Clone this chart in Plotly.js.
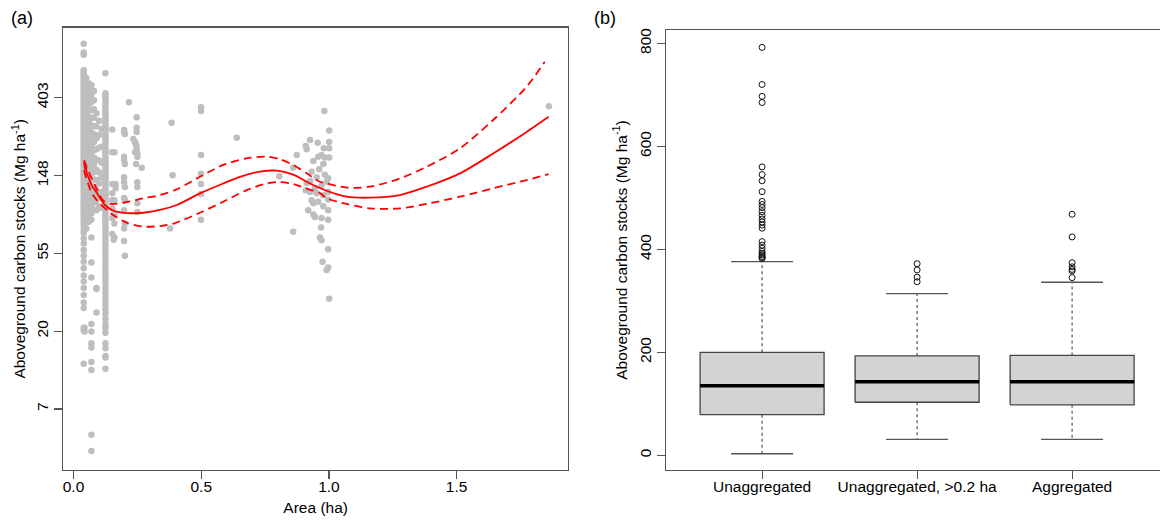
<!DOCTYPE html>
<html>
<head>
<meta charset="utf-8">
<script src="https://cdn.plot.ly/plotly-3.0.1.min.js"></script>
<style>html,body{margin:0;padding:0;background:#fff;}#chart{width:1160px;height:520px;}</style>
</head>
<body>
<div id="chart"></div>
<script>
// ---------- Panel (a): plot area (ha) vs aboveground carbon (Mg/ha), log y ----------
// dense columns of plots sharing (nearly) the same area
const colAreas = [0.04, 0.05, 0.06, 0.07, 0.08, 0.09, 0.10, 0.11, 0.125];
const colCarbon0040 = [808, 722, 700, 575, 560, 548, 530, 515, 500, 488, 475, 462, 450, 438, 425, 415, 403, 392, 382, 372, 362, 352, 343, 334, 325, 316, 308, 300, 292, 284, 276, 268, 261, 254, 247, 240, 233, 227, 221, 215, 209, 203, 197, 192, 187, 182, 177, 172, 167, 162, 158, 154, 150, 146, 142, 138, 134, 130, 126, 122, 118, 114, 110, 107, 104, 101, 98, 95, 92, 89, 86, 83, 80, 77, 74, 71, 66, 62, 57, 53, 49, 45, 41, 38, 35, 32, 29, 27, 21, 20.4, 13.2];
const colCarbon0050 = [520, 470, 430, 395, 365, 338, 312, 290, 270, 250, 232, 216, 201, 188, 176, 165, 154, 144, 135, 126, 118, 110, 102, 95, 88, 81, 75];
const colCarbon0060 = [485, 445, 405, 372, 342, 315, 292, 270, 249, 230, 213, 198, 184, 171, 159, 148, 138, 129, 120, 112, 104, 96, 89, 82];
const colCarbon0070 = [474, 420, 380, 345, 312, 283, 258, 236, 216, 198, 182, 167, 153, 141, 130, 119, 109, 100, 91, 84];
const colCarbon0080 = [440, 390, 348, 312, 280, 252, 228, 206, 187, 170, 155, 141, 128, 116, 105, 95];
const colCarbon0090 = [330, 280, 240, 208, 182, 160, 140, 123, 108, 95];
const colCarbon0100 = [300, 250, 212, 180, 155, 134, 116, 100];
const colCarbon0110 = [270, 215, 175, 145, 120, 98];
const colCarbon0125 = [553, 427, 417, 408, 395, 382, 370, 358, 346, 335, 324, 313, 303, 293, 284, 275, 266, 258, 250, 242, 234, 227, 220, 213, 206, 200, 194, 188, 182, 176, 171, 166, 161, 156, 151, 147, 143, 139, 135, 131, 127, 123, 119, 115, 112, 109, 106, 103, 100, 97, 94, 91, 88, 85, 82, 79, 76, 73, 70, 67, 64, 61, 58, 55, 52.5, 50, 47.5, 45, 43, 41, 39, 37, 35, 33, 31, 29.5, 28, 26.5, 25, 23.5, 22, 21, 19.7, 17.2, 16.1, 14.6, 14.3, 12.4];
const colCarbon = [colCarbon0040, colCarbon0050, colCarbon0060, colCarbon0070, colCarbon0080, colCarbon0090, colCarbon0100, colCarbon0110, colCarbon0125];

// individual plots
const otherArea = [0.07,0.07,0.07,0.07,0.07,0.07,0.07,0.07,0.07,0.07,0.07, 0.09,0.09,0.09, 0.043,0.043,
  0.152,0.152,0.152,0.152,0.152,0.152,0.152,0.152, 0.16,0.16,0.16,0.16,0.16, 0.157, 0.165,0.165,
  0.198,0.198,0.198,0.198,0.198,0.198,0.198,0.198,0.198,0.198, 0.201,0.201,0.201,0.201,0.201,0.201,
  0.217, 0.234, 0.241,0.241, 0.245,0.245, 0.247,0.247,0.247,0.247,0.247, 0.25,0.25,0.25,0.25,0.25,0.25, 0.267,
  0.378, 0.384, 0.388, 0.499,0.499,0.499,0.499,0.499,0.499,0.499, 0.639, 0.806, 0.86,0.86, 0.874,
  0.982,1.001,0.926,0.956,1.001,0.909,0.913,0.980,1.001,0.958,0.971,0.984,1.001,0.939,0.978,0.962,0.932,0.984,0.952,0.997,
  0.913,0.926,0.991,0.971,0.909,0.926,0.945,0.997,0.952,0.978,0.932,0.939,0.997,0.958,0.978,0.919,0.939,0.945,0.997,0.971,
  0.997,0.969,0.965,0.971,0.997,0.975,0.997,0.991,1.001, 1.861];
const otherCarbon = [67,48.5,40,22,20,17.2,16.3,13.5,12.2,5.3,4.3, 35,25.5,34.5, 21,20,
  268,200,133,118,108,97,86,70, 200,108,90,80,67, 65, 133,126,
  266,260,189,181,145,136,111,95,75,64, 253,172,128,108,80,53,
  380, 237, 200,228, 172,220, 314,274,260,213,205, 189,136,128,104,93,197, 164,
  75, 292, 149, 357,340,193,152,133,117,84, 241, 147, 164,72, 193,
  340,265,234,226,228,217,208,211,211,189,193,187,187,179,172,161,156,150,145,143.5,
  135,138,137,130,123,120,126,120,118,115,108,104,109,106,100,95,90,87,95,86,
  84,76,67,64.5,57.5,49,45.5,44,30.5, 362];

// fitted model and confidence band
const fitArea = [0.041,0.046,0.049,0.052,0.058,0.065,0.075,0.084,0.094,0.104,0.123,0.150,0.189,0.273,0.339,0.404,0.495,0.586,0.652,0.730,0.795,0.860,0.926,0.991,1.069,1.160,1.278,1.382,1.513,1.643,1.774,1.860];
const fitCarbon = [176,160,164,152,146,137,128,123,117,110.7,101.6,95.3,92,92,95.3,101.6,118,134,146,156,158,150,134,122,113,111.6,115.5,128.5,152.6,197,260,316];
const upperArea = [0.041,0.060,0.084,0.115,0.143,0.195,0.273,0.339,0.404,0.495,0.586,0.678,0.756,0.808,0.860,0.913,0.965,0.991,1.069,1.160,1.278,1.382,1.513,1.643,1.774,1.845];
const upperCarbon = [181,155,131,108,103,104.6,110.7,115.5,124.3,146,170,185,189,183,170,152.6,137,134,127,128.5,143,166,210.6,303,465,641];
const lowerArea = [0.041,0.076,0.143,0.208,0.273,0.339,0.391,0.495,0.586,0.678,0.756,0.808,0.860,0.918,0.965,0.991,1.069,1.160,1.278,1.382,1.513,1.643,1.774,1.860];
const lowerCarbon = [159,115.5,92,81,77,77.5,80,92,106,123,134,136.5,133,124.7,118.5,110.7,103,97.3,97.3,103,113,126,140,151];

const logTickText = ['7','20','55','148','403'];
const areaTickText = ['0.0','0.5','1.0','1.5'];

// ---------- Panel (b): boxplots ----------
const groups = ['Unaggregated', 'Unaggregated, >0.2 ha', 'Aggregated'];
const boxQ1 = [79, 103, 98];
const boxMedian = [135, 143, 143];
const boxQ3 = [200, 193, 194];
const whiskLow = [3, 31, 31];
const whiskHigh = [376, 314, 336];
const outUnagg = [792, 720, 697, 685, 560, 545, 533, 512, 493, 487, 481, 473, 466, 459, 453, 447, 441, 415, 408, 402, 396, 392, 389, 386, 384, 382];
const outUnagg02 = [372, 360, 346, 337];
const outAgg = [468, 424, 374, 366, 361, 358, 345];
const outliers = [outUnagg, outUnagg02, outAgg];

// ---------- build traces ----------
const ptX = [], ptY = [];
colAreas.forEach((a, i) => colCarbon[i].forEach(v => { ptX.push(a); ptY.push(v); }));
otherArea.forEach((a, i) => { ptX.push(a); ptY.push(otherCarbon[i]); });

const RED = '#FF0000';
const traces = [
  {type:'scatter', mode:'markers', x:ptX, y:ptY, xaxis:'x', yaxis:'y',
   marker:{color:'#BEBEBE', size:6.5}, hoverinfo:'x+y'},
  {type:'scatter', mode:'lines', x:upperArea, y:upperCarbon, xaxis:'x', yaxis:'y',
   line:{color:RED, width:1.8, dash:'8px,5px', shape:'spline', smoothing:0.8}},
  {type:'scatter', mode:'lines', x:lowerArea, y:lowerCarbon, xaxis:'x', yaxis:'y',
   line:{color:RED, width:1.8, dash:'8px,5px', shape:'spline', smoothing:0.8}},
  {type:'scatter', mode:'lines', x:fitArea, y:fitCarbon, xaxis:'x', yaxis:'y',
   line:{color:RED, width:1.8, shape:'spline', smoothing:0.8}}
];

const pos = groups.map((g, i) => i + 1);
const HW = 0.4, CAP = 0.2;
const bodyX = [], bodyY = [], medX = [], medY = [], whX = [], whY = [], capX = [], capY = [], oX = [], oY = [];
pos.forEach((p, i) => {
  bodyX.push(p-HW, p+HW, p+HW, p-HW, p-HW, null);
  bodyY.push(boxQ1[i], boxQ1[i], boxQ3[i], boxQ3[i], boxQ1[i], null);
  medX.push(p-HW, p+HW, null); medY.push(boxMedian[i], boxMedian[i], null);
  whX.push(p, p, null, p, p, null); whY.push(boxQ3[i], whiskHigh[i], null, boxQ1[i], whiskLow[i], null);
  capX.push(p-CAP, p+CAP, null, p-CAP, p+CAP, null); capY.push(whiskHigh[i], whiskHigh[i], null, whiskLow[i], whiskLow[i], null);
  outliers[i].forEach(v => { oX.push(p); oY.push(v); });
});
traces.push(
  {type:'scatter', mode:'lines', x:whX, y:whY, xaxis:'x2', yaxis:'y2', line:{color:'#555', width:1.2, dash:'3px,3px'}, connectgaps:false},
  {type:'scatter', mode:'lines', x:capX, y:capY, xaxis:'x2', yaxis:'y2', line:{color:'#555', width:1.3}},
  {type:'scatter', mode:'lines', x:bodyX, y:bodyY, xaxis:'x2', yaxis:'y2', fill:'toself', fillcolor:'#D3D3D3', line:{color:'#444', width:1.3}},
  {type:'scatter', mode:'lines', x:medX, y:medY, xaxis:'x2', yaxis:'y2', line:{color:'#000', width:3.5}},
  {type:'scatter', mode:'markers', x:oX, y:oY, xaxis:'x2', yaxis:'y2', marker:{symbol:'circle-open', size:6, color:'#111', line:{width:1}}}
);

const FONT = 'Liberation Sans, Arial, sans-serif';
const axisCommon = {
  showgrid:false, zeroline:false, showline:true, linecolor:'#555', linewidth:1.3, mirror:true,
  ticks:'outside', ticklen:8, tickcolor:'#555', tickwidth:1.2,
  tickfont:{family:FONT, size:15.5, color:'#000'}
};
const ytitle = 'Aboveground carbon stocks (Mg ha<sup>-1</sup>)';

const layout = {
  width:1160, height:520, margin:{l:0, r:0, t:0, b:0},
  paper_bgcolor:'#fff', plot_bgcolor:'#fff', showlegend:false,
  font:{family:FONT, size:15.5, color:'#000'},
  xaxis: Object.assign({}, axisCommon, {
    domain:[0.05457, 0.48966], range:[-0.040, 1.936], anchor:'y',
    tickvals:[0, 0.5, 1, 1.5], ticktext:areaTickText, ticklabelstandoff:-6,
    title:{text:'Area (ha)', font:{family:FONT, size:15.5}, standoff:8}
  }),
  yaxis: Object.assign({}, axisCommon, {
    domain:[0.09615, 0.94673], type:'log', range:[0.5277, 2.9966], anchor:'x',
    tickvals:[2,3,4,5,6].map(Math.exp), ticktext:logTickText, tickangle:-90,
    title:{text:ytitle, font:{family:FONT, size:15.5}, standoff:4}
  }),
  xaxis2: Object.assign({}, axisCommon, {
    domain:[0.57414, 1], range:[0.38, 3.567], anchor:'y2',
    tickvals:pos, ticktext:groups, ticklabelstandoff:-6
  }),
  yaxis2: Object.assign({}, axisCommon, {
    domain:[0.09615, 0.9423], range:[-28.5, 825.8], anchor:'x2',
    tickvals:[0,200,400,600,800], tickangle:-90,
    title:{text:ytitle, font:{family:FONT, size:15.5}, standoff:5}
  }),
  annotations:[
    {text:'(a)', xref:'paper', yref:'paper', x:22/1160, y:(520-18)/520, xanchor:'center', yanchor:'middle', showarrow:false, font:{family:FONT, size:18}},
    {text:'(b)', xref:'paper', yref:'paper', x:605/1160, y:(520-18)/520, xanchor:'center', yanchor:'middle', showarrow:false, font:{family:FONT, size:18}}
  ]
};

Plotly.newPlot('chart', traces, layout, {staticPlot:true, displayModeBar:false});
</script>
</body>
</html>
